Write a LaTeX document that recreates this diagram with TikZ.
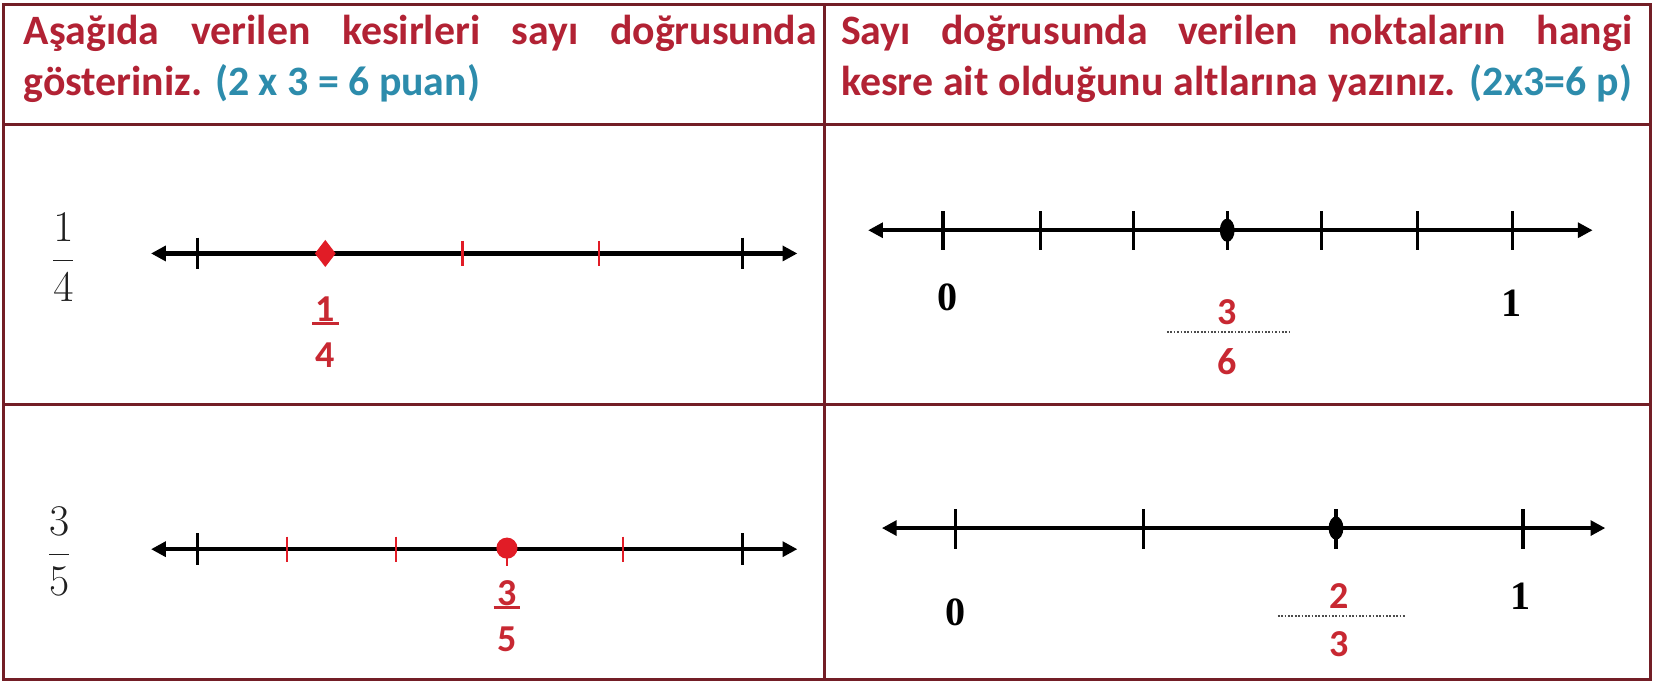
\documentclass[tikz,border=0pt]{standalone}
\usepackage{fontspec}
\setmainfont{Liberation Serif}
\newfontfamily\carl{Carlito}
\usetikzlibrary{arrows.meta,shapes.geometric}
\definecolor{hred}{RGB}{178,34,52}
\definecolor{hblue}{RGB}{45,140,172}
\definecolor{gridc}{RGB}{115,30,38}
\definecolor{mred}{RGB}{225,28,38}
\definecolor{lred}{RGB}{200,40,50}
\tikzset{
  hdr/.style={inner sep=0pt, text=hred, font=\carl\bfseries\fontsize{19.8}{23}\selectfont},
  gridline/.style={draw=gridc, line width=1.5pt},
  numline/.style={line width=2pt, {Triangle[length=7pt,width=7pt]}-{Triangle[length=7pt,width=7pt]}},
  btick/.style={line width=1.6pt},
  rtick/.style={line width=1.1pt, draw=mred},
  lfrac/.style={inner sep=0pt, text=black!88, font=\fontsize{22}{26}\selectfont},
  redlab/.style={inner sep=0.5pt, text=lred, font=\carl\bfseries\fontsize{18}{21}\selectfont},
  axlab/.style={inner sep=0pt, font=\bfseries\fontsize{19}{22}\selectfont},
  dotline/.style={draw=black!70, line width=0.9pt, dash pattern=on 0.8pt off 0.8pt},
}
\begin{document}
\begin{tikzpicture}[x=0.5pt,y=-0.5pt]
\useasboundingbox[fill=white] (0,0) rectangle (1568,646);
% grid
\draw[gridline] (3,4) rectangle (1563,643);
\draw[gridline] (3,118) -- (1563,118);
\draw[gridline] (3,383) -- (1563,383);
\draw[gridline] (781,4) -- (781,643);
% headers
\node[hdr, anchor=base west] (h1) at (22,42) {\makebox[375.5pt][s]{Aşağıda verilen kesirleri sayı doğrusunda}};
\node[hdr, anchor=base west] (h2) at (22,90) {gösteriniz. \textcolor{hblue}{(2 x 3 = 6 puan)}};
\node[hdr, anchor=base west] (h3) at (796,42) {\makebox[374.5pt][s]{Sayı doğrusunda verilen noktaların hangi}};
\node[hdr, anchor=base west] (h4) at (796,90) {\makebox[374.5pt][s]{kesre ait olduğunu altlarına yazınız. \textcolor{hblue}{(2x3=6 p)}}};
% ---------- left row 1
\node[lfrac] (f1) at (60,244) {$\displaystyle\frac{1}{4}$};
\coordinate (a1) at (143,240);
\coordinate (b1) at (755,240);
\draw[numline] (a1) -- (b1);
\draw[btick] (187,225) -- (187,255);
\draw[btick] (703,225) -- (703,255);
\draw[rtick] (438,228) -- (438,252);
\draw[rtick] (567,228) -- (567,252);
\node[diamond, fill=mred, inner sep=0pt, minimum width=10pt, minimum height=13pt] (p1) at (308,240) {};
\node[redlab] (n1) at (308,293) {1};
\node[redlab] (d1) at (308,336) {4};
\draw[lred, line width=1.4pt] ([xshift=-1pt]n1.south west) -- ([xshift=1pt]n1.south east);
% ---------- left row 2
\node[lfrac] (f2) at (56,522) {$\displaystyle\frac{3}{5}$};
\coordinate (a2) at (143,520);
\coordinate (b2) at (755,520);
\draw[numline] (a2) -- (b2);
\draw[btick] (187,505) -- (187,535);
\draw[btick] (703,505) -- (703,535);
\draw[rtick] (272,508) -- (272,532);
\draw[rtick] (375,508) -- (375,532);
\draw[rtick] (590,508) -- (590,532);
\draw[rtick] (480,510) -- (480,536);
\node[circle, fill=mred, inner sep=0pt, minimum size=10pt] (p2) at (480,519) {};
\node[redlab] (n2) at (480,562) {3};
\node[redlab] (d2) at (480,605) {5};
\draw[lred, line width=1.4pt] ([xshift=-1pt]n2.south west) -- ([xshift=1pt]n2.south east);
% ---------- right row 1
\coordinate (a3) at (822,218);
\coordinate (b3) at (1508,218);
\draw[numline] (a3) -- (b3);
\foreach \x in {893,985,1073,1162,1251,1342,1432} \draw[btick] (\x,200) -- (\x,237);
\node[ellipse, fill=black, inner sep=0pt, minimum width=7pt, minimum height=11pt] (p3) at (1162,218) {};
\node[axlab] (z3) at (897,282) {0};
\node[axlab] (o3) at (1431,287) {1};
\coordinate (s3) at (1105,314);
\coordinate (e3) at (1222,314);
\draw[dotline] (s3) -- (e3);
\node[redlab] (n3) at (1162,296) {3};
\node[redlab] (d3) at (1162,342) {6};
% ---------- right row 2
\coordinate (a4) at (835,500);
\coordinate (b4) at (1520,500);
\draw[numline] (a4) -- (b4);
\foreach \x in {905,1083,1265,1442} \draw[btick] (\x,482) -- (\x,520);
\node[ellipse, fill=black, inner sep=0pt, minimum width=7pt, minimum height=11pt] (p4) at (1265,500) {};
\node[axlab] (z4) at (905,580) {0};
\node[axlab] (o4) at (1440,565) {1};
\coordinate (s4) at (1210,583);
\coordinate (e4) at (1330,583);
\draw[dotline] (s4) -- (e4);
\node[redlab] (n4) at (1268,564) {2};
\node[redlab] (d4) at (1268,610) {3};
\end{tikzpicture}
\end{document}
